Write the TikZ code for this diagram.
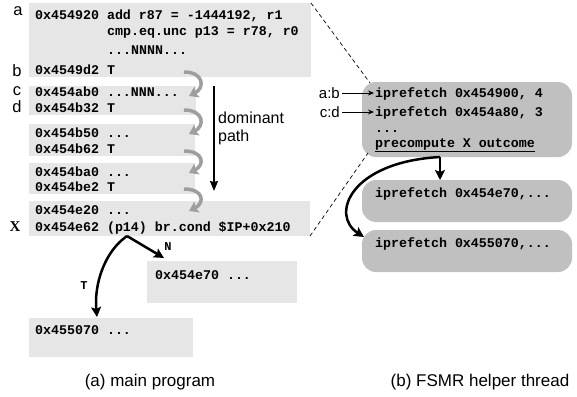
\documentclass[tikz,border=0pt]{standalone}
\usepackage{fontspec}
\setmainfont{Liberation Sans}
\setmonofont{Liberation Mono}
\setsansfont{Liberation Sans}
\newfontfamily\labserif{Liberation Serif}
\usetikzlibrary{arrows.meta}

\definecolor{blockgray}{rgb}{0.902, 0.902, 0.902}
\definecolor{helpergray}{rgb}{0.753, 0.753, 0.753}
\definecolor{flowgray}{rgb}{0.620, 0.620, 0.620}

\newcommand{\asmfont}{\ttfamily\bfseries\fontsize{13.3}{16}\selectfont}
\newcommand{\tagfont}{\fontsize{16.5}{18}\selectfont}
\newcommand{\capfont}{\fontsize{17}{20}\selectfont}

\tikzset{
  mainblk/.style={fill=blockgray, inner sep=0pt, outer sep=0pt},
  helperbox/.style={fill=helpergray, rounded corners=14pt, inner sep=0pt, outer sep=0pt},
  asm/.style={anchor=base west, inner sep=0pt, font=\asmfont},
  tagtext/.style={inner sep=0pt, font=\tagfont},
  flowarrow/.style={draw=flowgray, line width=3.5pt, -{Stealth[length=9pt,width=12pt,inset=2pt]}},
  brancharrow/.style={draw=black, line width=2.5pt, -{Stealth[length=10pt,width=10pt,inset=2pt]}},
  fetcharrow/.style={draw=black, line width=0.8pt, -{Stealth[length=6pt,width=5pt]}},
  zoomline/.style={draw=black, line width=0.7pt, dash pattern=on 4pt off 3pt},
}

\begin{document}
\begin{tikzpicture}[x=1pt,y=-1pt]
\useasboundingbox (0,0) rectangle (577,396);

% main program: basic blocks
\node[mainblk, minimum width=282pt, minimum height=74pt] (blkab) at (170,40) {};
\node[mainblk, minimum width=167pt, minimum height=29pt] (blkcd) at (112.5,100.5) {};
\node[mainblk, minimum width=166pt, minimum height=32pt] (blkb5) at (112,140) {};
\node[mainblk, minimum width=166pt, minimum height=31pt] (blkba) at (112,178.5) {};
\node[mainblk, minimum width=281pt, minimum height=35pt] (blkx) at (169.5,218.5) {};
\node[mainblk, minimum width=150pt, minimum height=42pt] (blkn) at (222,282) {};
\node[mainblk, minimum width=164pt, minimum height=39pt] (blkt) at (111,337.5) {};

% code lines
\node[asm] (ia1) at (35,20) {0x454920 add r87 = -1444192, r1};
\node[asm] (ia2) at (107,36) {cmp.eq.unc p13 = r78, r0};
\node[asm] (ia3) at (107,54) {...NNNN...};
\node[asm] (ib) at (35,74) {0x4549d2 T};
\node[asm] (ic) at (35,96) {0x454ab0 ...NNN...};
\node[asm] (id) at (35,112) {0x454b32 T};
\node[asm] (ie1) at (35,137) {0x454b50 ...};
\node[asm] (ie2) at (35,153) {0x454b62 T};
\node[asm] (if1) at (35,176) {0x454ba0 ...};
\node[asm] (if2) at (35,191) {0x454be2 T};
\node[asm] (ix1) at (35,214) {0x454e20 ...};
\node[asm] (ix2) at (35,231) {0x454e62 (p14) br.cond \$IP+0x210};
\node[asm] (in) at (155,279) {0x454e70 ...};
\node[asm] (it) at (35,334) {0x455070 ...};

% block labels
\node[tagtext] (taga) at (18,11) {a};
\node[tagtext] (tagb) at (17,71) {b};
\node[tagtext] (tagc) at (17,91) {c};
\node[tagtext] (tagd) at (17,107) {d};
\node[inner sep=0pt, font=\labserif\bfseries\fontsize{15}{16}\selectfont] (tagx) at (15,227) {X};

% fall-through flow between blocks
\draw[flowarrow] ([xshift=155pt,yshift=5pt]blkab.south west) .. controls +(20,0) and +(16,-8) .. ([xshift=160pt,yshift=-10pt]blkcd.north west);
\draw[flowarrow] ([xshift=155pt,yshift=5pt]blkcd.south west) .. controls +(20,0) and +(16,-8) .. ([xshift=160pt,yshift=-10pt]blkb5.north west);
\draw[flowarrow] ([xshift=155pt,yshift=5pt]blkb5.south west) .. controls +(20,0) and +(16,-8) .. ([xshift=160pt,yshift=-10pt]blkba.north west);
\draw[flowarrow] ([xshift=155pt,yshift=5pt]blkba.south west) .. controls +(20,0) and +(16,-8) .. ([xshift=160pt,yshift=-10pt]blkx.north west);

% dominant path
\coordinate (domtop) at (214,86);
\coordinate (dombot) at (214,191);
\draw[line width=1.5pt, -{Stealth[length=10pt,width=8pt,inset=1pt]}] (domtop) -- (dombot);
\node[anchor=west, align=left, inner sep=0pt, font=\fontsize{16}{18}\selectfont] (domtext) at (218,128) {dominant\\path};

% branch X
\coordinate (brsrc) at (127,236);
\draw[brancharrow] (brsrc) -- ([xshift=17pt,yshift=3pt]blkn.north west);
\draw[brancharrow] (brsrc) .. controls (104,252) and (94,285) .. ([xshift=68pt,yshift=1pt]blkt.north west);
\node[inner sep=0pt, font=\ttfamily\bfseries\fontsize{12}{14}\selectfont] (lbln) at (168,247) {N};
\node[inner sep=0pt, font=\ttfamily\bfseries\fontsize{12}{14}\selectfont] (lblt) at (84,286) {T};

% helper thread
\node[helperbox, minimum width=210pt, minimum height=75pt] (pre) at (467,119.5) {};
\node[helperbox, minimum width=210pt, minimum height=42pt] (fetchn) at (467,201) {};
\node[helperbox, minimum width=210pt, minimum height=42pt] (fetcht) at (467,251) {};

\node[asm] (pf1) at (375,97) {iprefetch 0x454900, 4};
\node[asm] (pf2) at (375,116) {iprefetch 0x454a80, 3};
\node[asm] (pf3) at (375,132) {...};
\node[asm] (pf4) at (375,147) {\underline{precompute X outcome}};
\node[asm] (pfn) at (375,197) {iprefetch 0x454e70,...};
\node[asm] (pft) at (375,247) {iprefetch 0x455070,...};

\node[tagtext, anchor=east, font=\fontsize{15}{16}\selectfont] (lab) at (340,93) {a:b};
\node[tagtext, anchor=east, font=\fontsize{15}{16}\selectfont] (lcd) at (340,112) {c:d};
\draw[fetcharrow] (lab.east) ++(2,0) -- ([yshift=4pt,xshift=-1pt]pf1.base west);
\draw[fetcharrow] (lcd.east) ++(2,0) -- ([yshift=4pt,xshift=-1pt]pf2.base west);

\coordinate (presrc) at ([xshift=-27pt]pre.south);
\draw[brancharrow] (presrc) -- ([xshift=-27pt]fetchn.north);
\draw[brancharrow] (presrc) .. controls (350,162) and (330,215) .. ([xshift=2pt,yshift=14pt]fetcht.west);

% zoom lines
\draw[zoomline] (blkab.north east) -- ([xshift=8pt,yshift=-1pt]pre.north west);
\draw[zoomline] (blkx.south east) -- ([xshift=6pt,yshift=4pt]pre.south west);

% captions
\node[font=\capfont] (capa) at (150,382) {(a) main program};
\node[font=\capfont] (capb) at (480,382) {(b) FSMR helper thread};
\end{tikzpicture}
\end{document}
